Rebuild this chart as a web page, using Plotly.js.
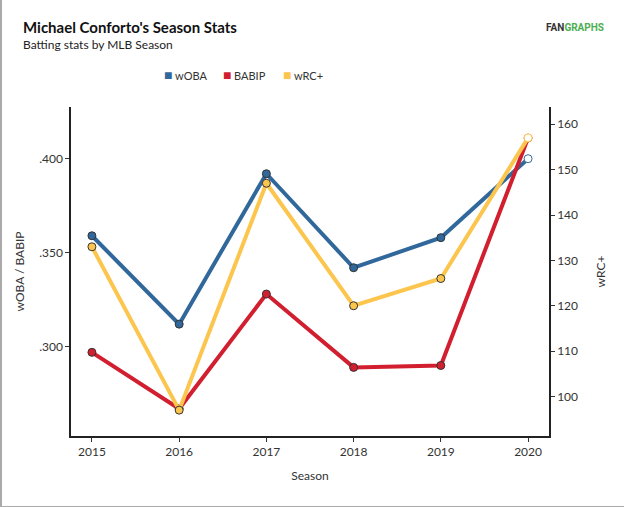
<!DOCTYPE html>
<html>
<head>
<meta charset="utf-8">
<script src="https://cdn.plot.ly/plotly-3.0.1.min.js"></script>
<style>
	body { margin: 0; background: #fff; }
	#frame { width: 622px; height: 506px; border-left: 2px solid #aaa; border-bottom: 1px solid #aaa; overflow: hidden; }
	#chart { width: 622px; height: 506px; }
</style>
</head>
<body>
<div id="frame"><div id="chart"></div></div>
<script>
// season stats
const seasons = [2015, 2016, 2017, 2018, 2019, 2020];
const woba = [0.359, 0.312, 0.392, 0.342, 0.358, 0.400];
const babip = [0.297, 0.267, 0.328, 0.289, 0.290, 0.411];
const wrcPlus = [133, 97, 147, 120, 126, 157];

const leftTickVals = [0.300, 0.350, 0.400];
const leftTickText = ['.300', '.350', '.400'];
const rightTickVals = [100, 110, 120, 130, 140, 150, 160];

const blue = '#31689b';
const red = '#d21f2f';
const yellow = '#fcc64e';

// last season is drawn with a hollow marker
function markerFills(color){
	return seasons.map((s, i) => i == seasons.length - 1 ? '#ffffff' : color);
}
function markerLines(color){
	return seasons.map((s, i) => i == seasons.length - 1 ? color : '#333333');
}

function lineTrace(name, y, color, axis){
	return {
		x: seasons,
		y: y,
		name: name,
		yaxis: axis,
		type: 'scatter',
		mode: 'lines+markers',
		showlegend: false,
		line: {color: color, width: 4},
		marker: {size: 8, color: markerFills(color), line: {color: markerLines(color), width: 1}},
		hoverinfo: 'x+y+name'
	};
}

// legend drawn as a row of coloured squares above the plot
function legendItem(name, color, x){
	return [
		{
			text: '■',
			xref: 'paper', yref: 'paper', x: x, y: 1.099,
			xanchor: 'left', yanchor: 'middle', showarrow: false,
			font: {size: 14, color: color}
		},
		{
			text: name,
			xref: 'paper', yref: 'paper', x: x + 0.023, y: 1.097,
			xanchor: 'left', yanchor: 'middle', showarrow: false,
			font: {size: 11, color: '#333'}
		}
	];
}

let traces = [
	lineTrace('wOBA', woba, blue, 'y'),
	lineTrace('BABIP', babip, red, 'y'),
	lineTrace('wRC+', wrcPlus, yellow, 'y2')
];

let layout = {
	width: 622,
	height: 506,
	margin: {l: 69, r: 75, t: 107, b: 70},
	paper_bgcolor: '#ffffff',
	plot_bgcolor: '#ffffff',
	font: {family: 'Lato, "Open Sans", sans-serif', size: 12, color: '#333'},
	showlegend: false,
	xaxis: {
		range: [2014.76, 2020.24],
		tickvals: seasons,
		ticks: 'outside', ticklen: 4, tickcolor: '#333',
		showline: true, linecolor: '#222', linewidth: 1.5,
		showgrid: false, zeroline: false,
		tickfont: {size: 12, color: '#333'},
		title: {text: 'Season', font: {size: 12, color: '#333'}, standoff: 13}
	},
	yaxis: {
		range: [0.2525, 0.4275],
		tickvals: leftTickVals,
		ticktext: leftTickText,
		ticks: 'outside', ticklen: 4, tickcolor: '#333',
		showline: true, linecolor: '#222', linewidth: 1.5,
		showgrid: false, zeroline: false,
		tickfont: {size: 12, color: '#333'},
		title: {text: 'wOBA / BABIP', font: {size: 12, color: '#333'}, standoff: 12}
	},
	yaxis2: {
		range: [91.3, 163.8],
		overlaying: 'y',
		side: 'right',
		tickvals: rightTickVals,
		ticks: 'outside', ticklen: 4, tickcolor: '#333',
		showline: true, linecolor: '#222', linewidth: 1.5,
		showgrid: false, zeroline: false,
		tickfont: {size: 12, color: '#333'},
		title: {text: 'wRC+', font: {size: 12, color: '#333'}, standoff: 20}
	},
	annotations: [
		{
			text: "<b>Michael Conforto's Season Stats</b>",
			xref: 'paper', yref: 'paper', x: -0.104, y: 1.243,
			xanchor: 'left', yanchor: 'middle', showarrow: false,
			font: {size: 15, color: '#111'}
		},
		{
			text: 'Batting stats by MLB Season',
			xref: 'paper', yref: 'paper', x: -0.104, y: 1.19,
			xanchor: 'left', yanchor: 'middle', showarrow: false,
			font: {size: 12, color: '#222'}
		},
		{
			text: "<b><span style='color:#333'>FAN</span>GRAPHS</b>",
			xref: 'paper', yref: 'paper', x: 1.12, y: 1.243,
			xanchor: 'right', yanchor: 'middle', showarrow: false,
			font: {family: 'Roboto, Arial, sans-serif', size: 10, color: '#4caf50'}
		}
	].concat(legendItem('wOBA', blue, 0.19), legendItem('BABIP', red, 0.314), legendItem('wRC+', yellow, 0.44))
};

Plotly.newPlot('chart', traces, layout, {displayModeBar: false, responsive: false});
</script>
</body>
</html>
